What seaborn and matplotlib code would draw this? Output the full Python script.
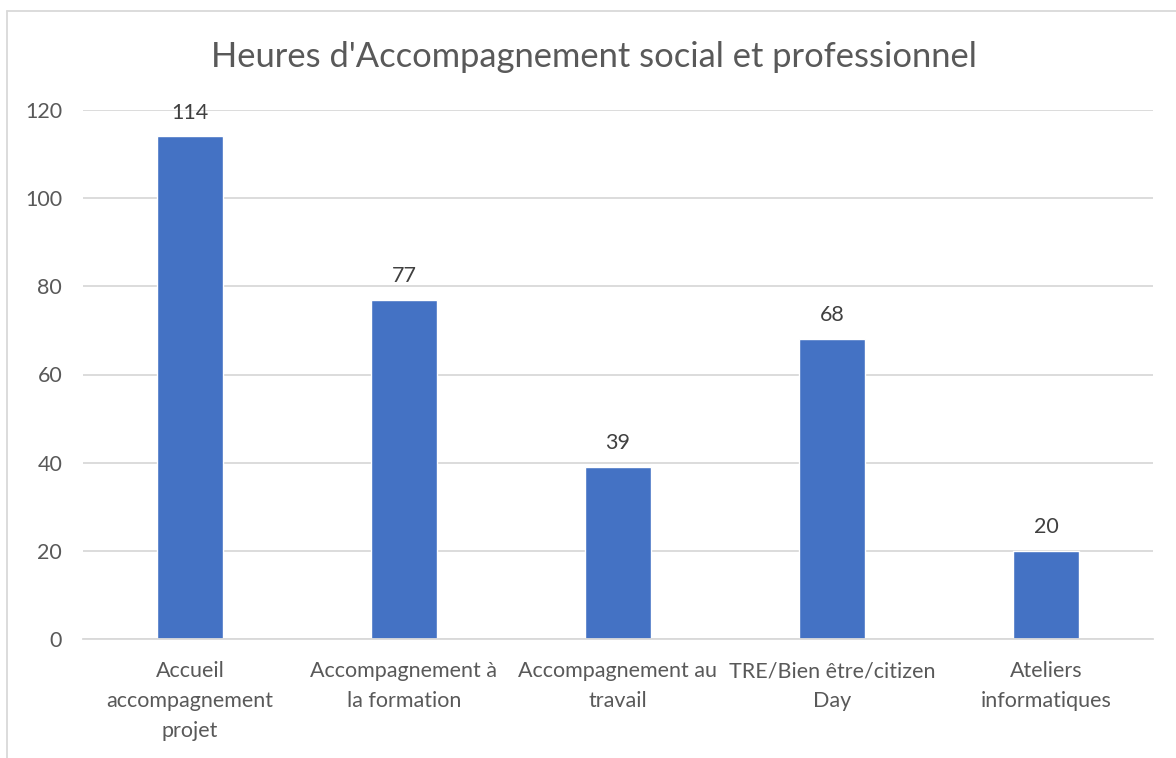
import matplotlib
matplotlib.use("Agg")
import matplotlib.pyplot as plt
import seaborn as sns
import pandas as pd
from matplotlib.lines import Line2D

categories = [
    "Accueil\naccompagnement\nprojet",
    "Accompagnement à\nla formation",
    "Accompagnement au\ntravail",
    "TRE/Bien être/citizen\nDay",
    "Ateliers\ninformatiques",
]
heures = [114, 77, 39, 68, 20]
yticks = [0, 20, 40, 60, 80, 100, 120]

sns.set_style("white")
plt.rcParams["font.family"] = ["Lato", "DejaVu Sans"]

df = pd.DataFrame({"cat": categories, "h": heures})

fig = plt.figure(figsize=(11.76, 7.58), dpi=100)
ax = fig.add_axes([83 / 1176, 1 - 639 / 758, (1153 - 83) / 1176, (639 - 110) / 758])
sns.barplot(data=df, x="cat", y="h", color="#4472C4", width=0.313, saturation=1, ax=ax)

ax.set_ylim(0, 120)
ax.set_yticks(yticks)
ax.yaxis.grid(True, color="#D9D9D9", linewidth=1.3)
ax.set_axisbelow(True)
for s in ["top", "right", "left"]:
    ax.spines[s].set_visible(False)
ax.spines["bottom"].set_color("#D9D9D9")
ax.spines["bottom"].set_linewidth(1.3)
ax.tick_params(axis="y", length=0, pad=15, labelsize=15.5, labelcolor="#595959")
ax.tick_params(axis="x", length=0, pad=16, labelsize=15.5, labelcolor="#595959")
for t in ax.get_xticklabels():
    t.set_linespacing(1.62)
ax.set_xlabel("")
ax.set_ylabel("")
ax.bar_label(ax.containers[0], padding=10, fontsize=15.5, color="#404040")

fig.text(594 / 1176, 1 - 57 / 758, "Heures d'Accompagnement social et professionnel",
         ha="center", va="center", fontsize=24.8, color="#595959")

fig.add_artist(Line2D([7 / 1176, 7 / 1176], [0, 1 - 11 / 758], color="#D9D9D9", linewidth=1.3))
fig.add_artist(Line2D([7 / 1176, 1], [1 - 11 / 758, 1 - 11 / 758], color="#D9D9D9", linewidth=1.3))

fig.savefig("out.png", dpi=100)
